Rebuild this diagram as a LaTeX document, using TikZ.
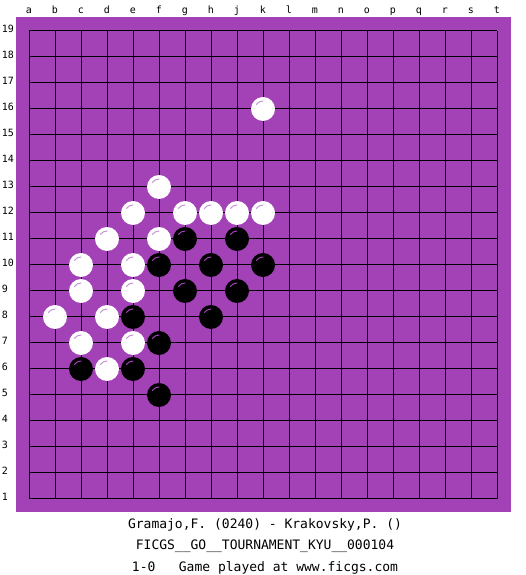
\documentclass[tikz,border=0pt]{standalone}
\usepackage{fontspec}
\newfontfamily\boardfont{DejaVu Sans Mono}
\definecolor{boardpurple}{RGB}{163,65,183}
\definecolor{whiteshine}{RGB}{196,150,216}
\definecolor{blackshine}{RGB}{163,65,183}
\tikzset{
  gridline/.style={black,line width=1pt},
  stone/.style={circle,inner sep=0pt,minimum size=24pt,draw=none},
  whitestone/.style={stone,fill=white},
  blackstone/.style={stone,fill=black},
  shine/.style={line width=1pt,line cap=round},
  coordlabel/.style={font=\boardfont\fontsize{10}{10}\selectfont,inner sep=0pt},
  caption/.style={font=\boardfont\fontsize{13}{13}\selectfont,inner sep=0pt,anchor=base},
}

\begin{document}
\begin{tikzpicture}[x=26pt,y=26pt]
  %board
  \useasboundingbox (-3pt,-50pt) rectangle (522pt,525pt);
  \fill[boardpurple] (13pt,12.5pt) rectangle (507.5pt,508pt);
  \foreach \i in {1,...,19} {
    \draw[gridline] (\i,1) -- (\i,19);
    \draw[gridline] (1,\i) -- (19,\i);
  }
  %coordinates
  \foreach \l [count=\i] in {a,b,c,d,e,f,g,h,j,k,l,m,n,o,p,q,r,s,t}
    \node[coordlabel,anchor=base,yshift=511pt] (col-\l) at (\i,0) {\l};
  \foreach \i in {1,...,19}
    \node[coordlabel,anchor=base west,xshift=-1.3pt,yshift=-1.5pt] (row-\i) at (0,\i) {\i};
  %white stones
  \foreach \c/\r/\n in {10/16/k16,6/13/f13,5/12/e12,7/12/g12,8/12/h12,9/12/j12,10/12/k12,
      4/11/d11,6/11/f11,3/10/c10,5/10/e10,3/9/c9,5/9/e9,2/8/b8,4/8/d8,3/7/c7,5/7/e7,4/6/d6} {
    \node[whitestone] (\n) at (\c,\r) {};
    \draw[shine,whiteshine] (\n.center) ++(145:8pt) arc[start angle=145,end angle=90,radius=8pt];
  }
  %black stones
  \foreach \c/\r/\n in {7/11/g11,9/11/j11,6/10/f10,8/10/h10,10/10/k10,7/9/g9,9/9/j9,
      5/8/e8,8/8/h8,6/7/f7,3/6/c6,5/6/e6,6/5/f5} {
    \node[blackstone] (\n) at (\c,\r) {};
    \draw[shine,blackshine] (\n.center) ++(145:8pt) arc[start angle=145,end angle=90,radius=8pt];
  }
  %caption
  \node[caption] (players) at (262pt,-3pt) {Gramajo,F. (0240) - Krakovsky,P. ()};
  \node[caption] (event) at (262pt,-24pt) {FICGS\_\_GO\_\_TOURNAMENT\_KYU\_\_000104};
  \node[caption] (result) at (262pt,-46pt) {1-0\ \ \ Game played at www.ficgs.com};
\end{tikzpicture}
\end{document}
